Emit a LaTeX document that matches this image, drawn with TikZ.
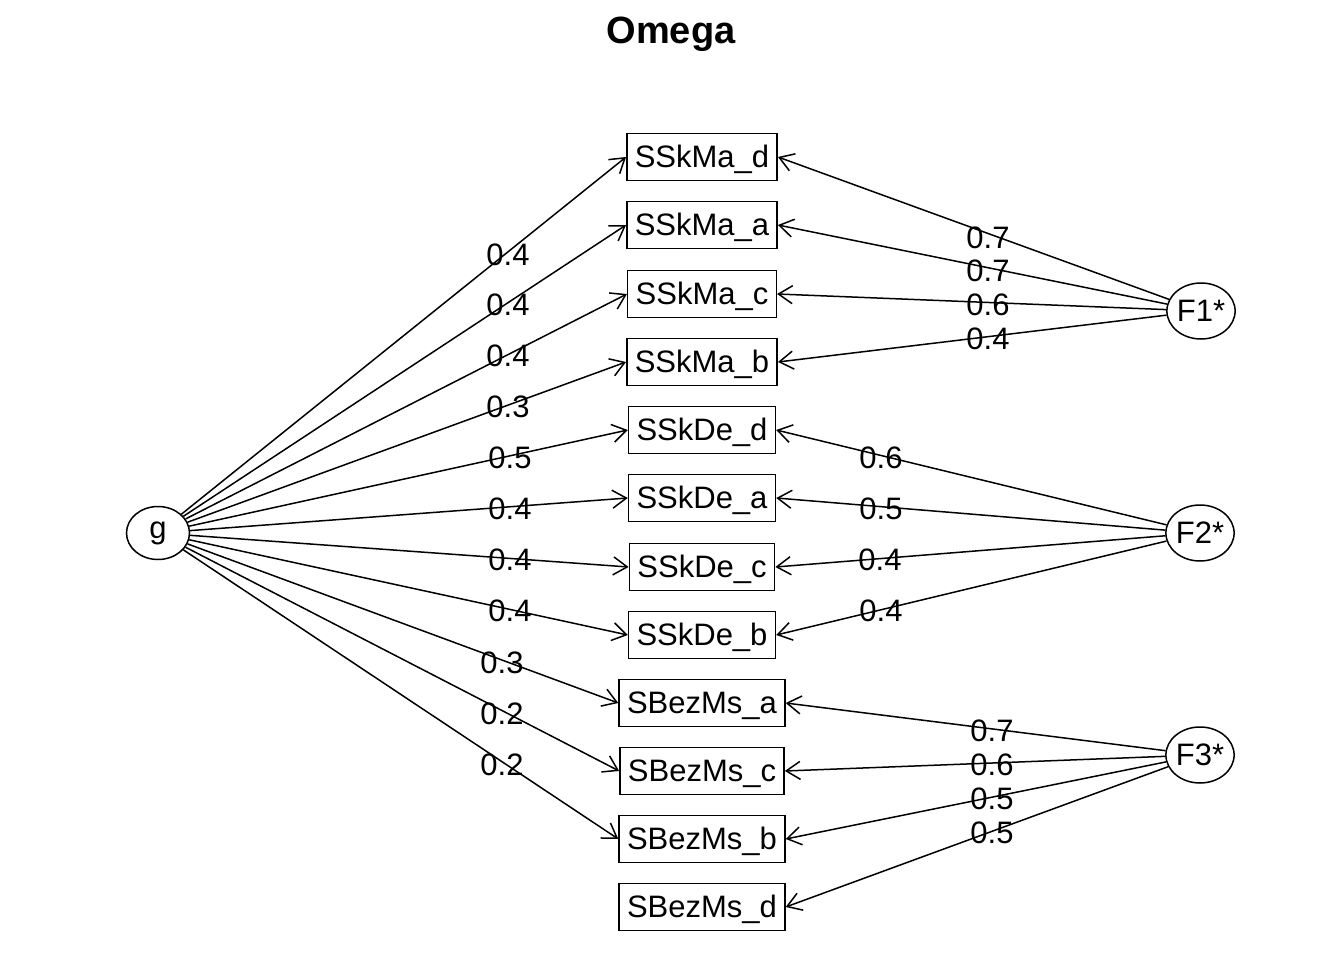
\documentclass[tikz,border=0pt]{standalone}
\usepackage{fontspec}
\setmainfont{Liberation Sans}
\usetikzlibrary{arrows.meta,shapes.geometric}
\begin{document}
\begin{tikzpicture}[x=1pt,y=-1pt,
  box/.style={draw, line width=1.5pt, font=\fontsize{31}{37}\selectfont, minimum height=47pt, inner xsep=8pt, inner ysep=0pt, text height=22pt, text depth=1.5pt},
  lat/.style={draw, ellipse, line width=1.5pt, font=\fontsize{31}{37}\selectfont, inner sep=0pt},
  lbl/.style={font=\fontsize{31}{37}\selectfont, inner sep=0pt},
  arr/.style={line width=1.5pt, -{Straight Barb[length=14pt,width=18pt,line width=1.5pt]}}]
\useasboundingbox (0,0) rectangle (1344,960);
\node[font=\fontsize{38}{44}\bfseries, anchor=base] (title) at (671,44) {Omega};
% manifest variables
\node[box] (b1) at (702,157) {SSkMa\_d};
\node[box] (b2) at (702,225) {SSkMa\_a};
\node[box] (b3) at (702,294) {SSkMa\_c};
\node[box] (b4) at (702,362) {SSkMa\_b};
\node[box] (b5) at (702,430) {SSkDe\_d};
\node[box] (b6) at (702,498) {SSkDe\_a};
\node[box] (b7) at (702,567) {SSkDe\_c};
\node[box] (b8) at (702,635) {SSkDe\_b};
\node[box] (b9) at (702,703) {SBezMs\_a};
\node[box] (b10) at (702,771) {SBezMs\_c};
\node[box] (b11) at (702,839) {SBezMs\_b};
\node[box] (b12) at (702,907) {SBezMs\_d};
% latent
\node[lat, minimum width=63pt, minimum height=53pt] (g) at (158,533) {g};
\node[lat, minimum width=60pt, minimum height=56pt] (F1) at (1201,311) {F1*};
\node[lat, minimum width=60pt, minimum height=56pt] (F2) at (1200,533) {F2*};
\node[lat, minimum width=60pt, minimum height=56pt] (F3) at (1200,755) {F3*};
% g loadings
\draw[arr] (g) -- (b1.west) node[lbl] at (508,255) {0.4};
\draw[arr] (g) -- (b2.west) node[lbl] at (508,305) {0.4};
\draw[arr] (g) -- (b3.west) node[lbl] at (508,356) {0.4};
\draw[arr] (g) -- (b4.west) node[lbl] at (508,407) {0.3};
\draw[arr] (g) -- (b5.west) node[lbl] at (510,458) {0.5};
\draw[arr] (g) -- (b6.west) node[lbl] at (510,509) {0.4};
\draw[arr] (g) -- (b7.west) node[lbl] at (510,560) {0.4};
\draw[arr] (g) -- (b8.west) node[lbl] at (510,611) {0.4};
\draw[arr] (g) -- (b9.west) node[lbl] at (502,663) {0.3};
\draw[arr] (g) -- (b10.west) node[lbl] at (502,714) {0.2};
\draw[arr] (g) -- (b11.west) node[lbl] at (502,765) {0.2};
% group factor loadings
\draw[arr] (F1) -- (b1.east) node[lbl] at (988,238) {0.7};
\draw[arr] (F1) -- (b2.east) node[lbl] at (988,271) {0.7};
\draw[arr] (F1) -- (b3.east) node[lbl] at (988,305) {0.6};
\draw[arr] (F1) -- (b4.east) node[lbl] at (988,339) {0.4};
\draw[arr] (F2) -- (b5.east) node[lbl] at (881,458) {0.6};
\draw[arr] (F2) -- (b6.east) node[lbl] at (881,509) {0.5};
\draw[arr] (F2) -- (b7.east) node[lbl] at (880,560) {0.4};
\draw[arr] (F2) -- (b8.east) node[lbl] at (881,611) {0.4};
\draw[arr] (F3) -- (b9.east) node[lbl] at (992,731) {0.7};
\draw[arr] (F3) -- (b10.east) node[lbl] at (992,765) {0.6};
\draw[arr] (F3) -- (b11.east) node[lbl] at (992,799) {0.5};
\draw[arr] (F3) -- (b12.east) node[lbl] at (992,833) {0.5};
\end{tikzpicture}
\end{document}
